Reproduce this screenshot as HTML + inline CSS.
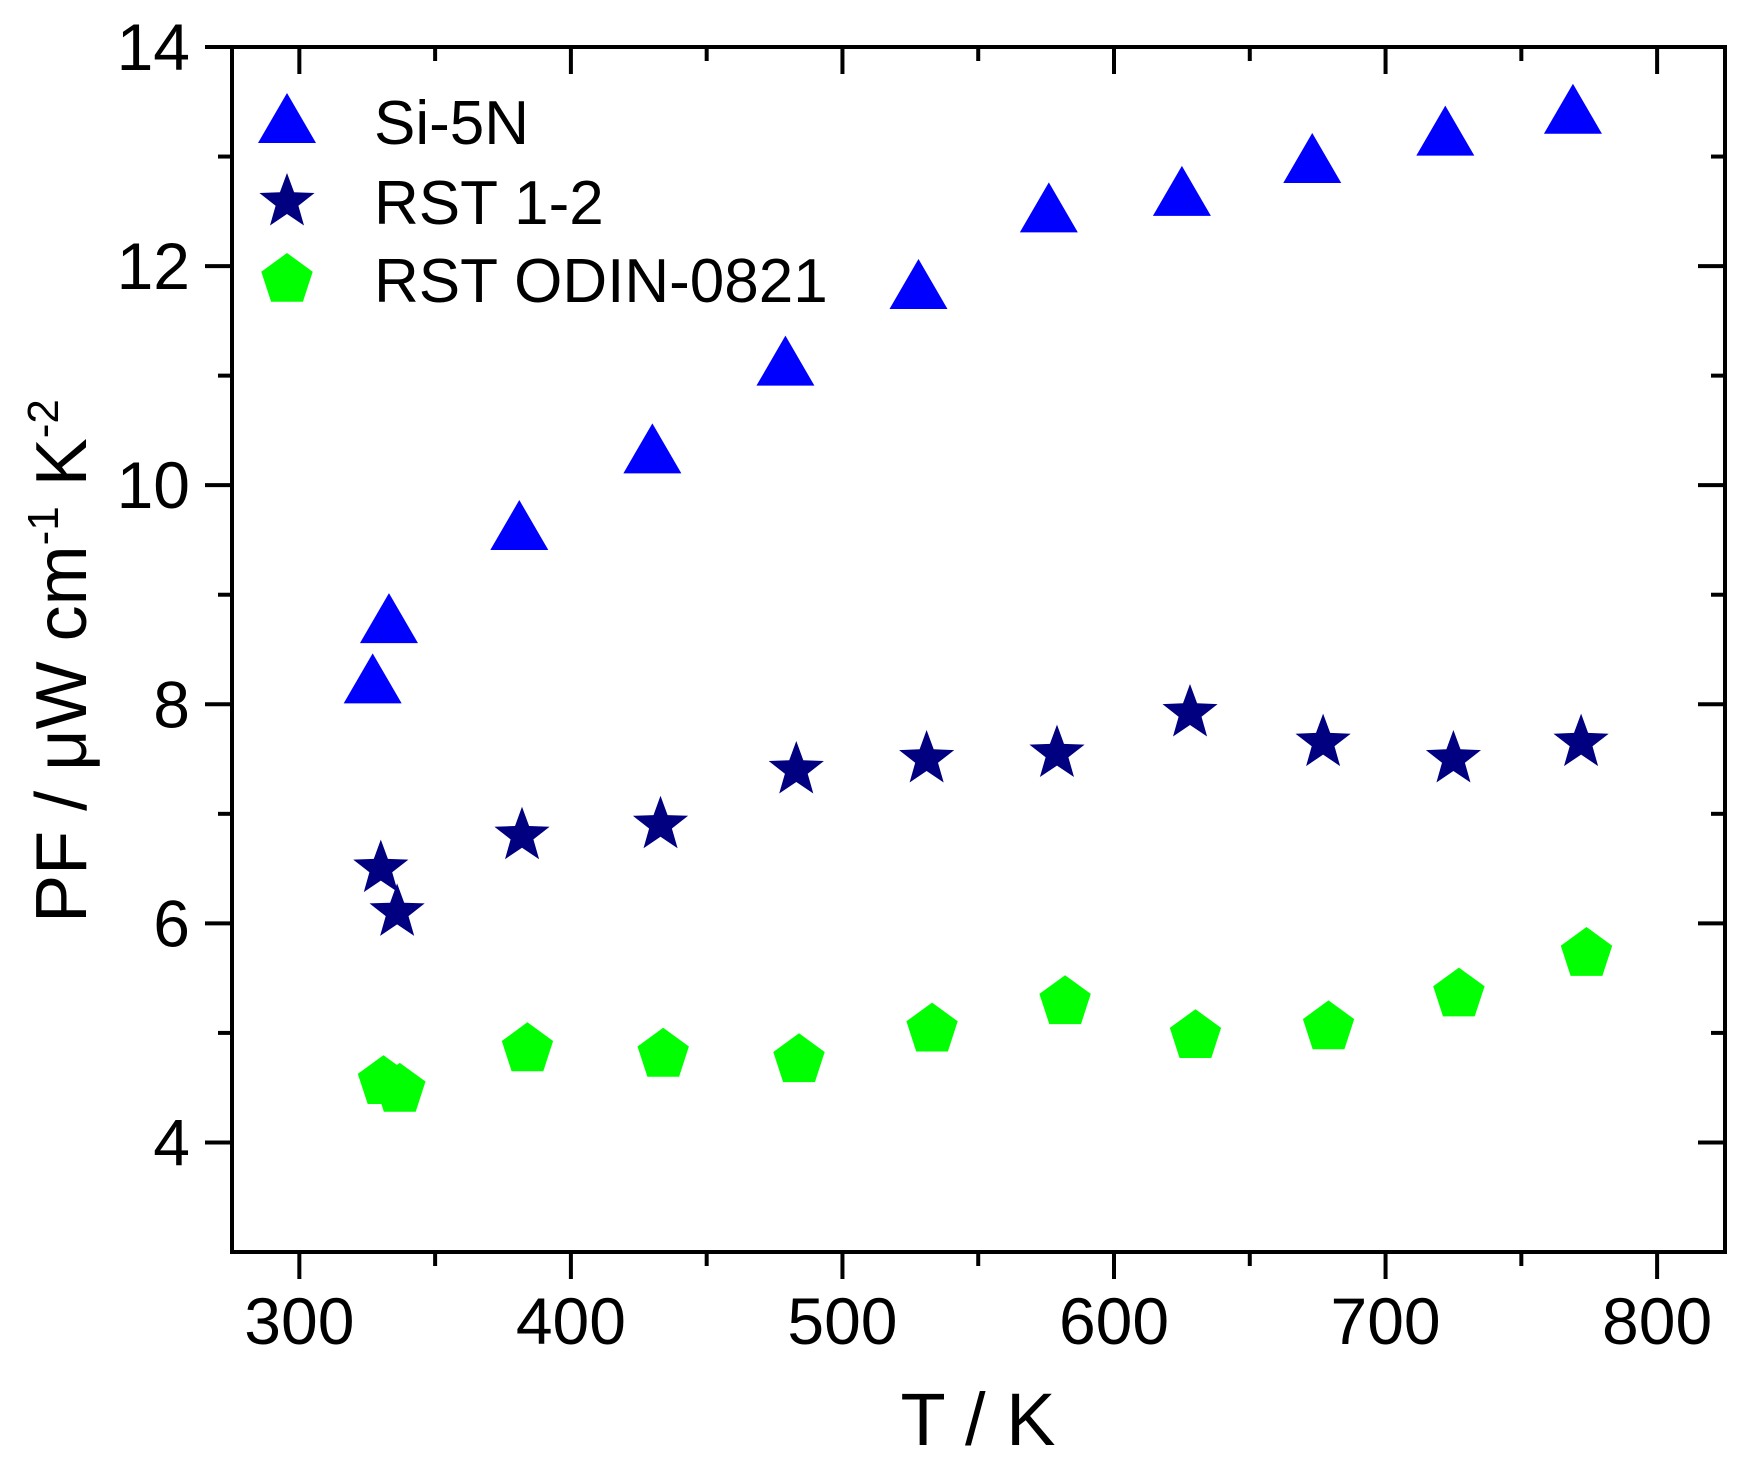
<!DOCTYPE html>
<html><head><meta charset="utf-8"><style>
html,body{margin:0;padding:0;background:#fff;}
svg text{font-family:"Liberation Sans",Arial,sans-serif;fill:#000;}
</style></head><body>
<svg id="chart" width="1741" height="1461" viewBox="0 0 1741 1461" xmlns="http://www.w3.org/2000/svg"></svg>
<script>
const xTicks=[300,400,500,600,700,800];
const yTicks=[4,6,8,10,12,14];
const siX=[327,333,381,430,479,528,576,625,673,722,769];
const siY=[8.2,8.75,9.6,10.3,11.1,11.8,12.5,12.65,12.95,13.2,13.4];
const rstX=[330,336,382,433,483,531,579,628,677,725,772];
const rstY=[6.5,6.1,6.8,6.9,7.4,7.5,7.55,7.92,7.65,7.5,7.65];
const odinX=[331,337,384,434,484,533,582,630,679,727,774];
const odinY=[4.55,4.48,4.85,4.8,4.75,5.03,5.28,4.97,5.05,5.35,5.72];

const L=232,R=1725,T=47,B=1252;
const X0=275.2,X1=825,Y0=3,Y1=14;
function sx(v){return L+(v-X0)/(X1-X0)*(R-L);}
function sy(v){return B-(v-Y0)/(Y1-Y0)*(B-T);}
const svg=document.getElementById('chart');
const NS='http://www.w3.org/2000/svg';
function mk(tag,attrs,parent){const e=document.createElementNS(NS,tag);for(const k in attrs)e.setAttribute(k,attrs[k]);(parent||svg).appendChild(e);return e;}

const frame=mk('rect',{x:L,y:T,width:R-L,height:B-T,fill:'none',stroke:'#000','stroke-width':4});



for(let v=300;v<=800;v+=50){
  const maj=v%100===0;const x=sx(v);
  const t1=mk('line',{x1:x,y1:B,x2:x,y2:B+(maj?27:14),stroke:'#000','stroke-width':4});
  
  
  const t2=mk('line',{x1:x,y1:T,x2:x,y2:T+(maj?27:14),stroke:'#000','stroke-width':4});
  
  
}
xTicks.forEach(v=>{
  const t=mk('text',{x:sx(v),y:1344,'font-size':66,'text-anchor':'middle'});
  t.textContent=v;
  
  
});
for(let v=4;v<=14;v+=1){
  const maj=v%2===0;const y=sy(v);
  const t1=mk('line',{x1:L,y1:y,x2:L-(maj?27:14),y2:y,stroke:'#000','stroke-width':4});
  
  
  const t2=mk('line',{x1:R,y1:y,x2:R-(maj?27:14),y2:y,stroke:'#000','stroke-width':4});
  
  
}
yTicks.forEach(v=>{
  const t=mk('text',{x:190,y:sy(v)+23,'font-size':66,'text-anchor':'end'});
  t.textContent=v;
  
  
});
const xt=mk('text',{x:978,y:1445,'font-size':74,'text-anchor':'middle'});
xt.textContent='T / K';


const yt=mk('text',{x:0,y:0,'font-size':72,'text-anchor':'middle',transform:'translate(86,661) rotate(-90)'});
yt.innerHTML='PF / μW cm<tspan dy="-28" font-size="44">-1</tspan><tspan dy="28"> K</tspan><tspan dy="-28" font-size="44">-2</tspan>';



function tri(cx,cy,col){return mk('polygon',{points:`${cx},${cy-29} ${cx-29},${cy+21} ${cx+29},${cy+21}`,fill:col});}
function star(cx,cy,col){let p=[];for(let i=0;i<10;i++){const r=i%2?12:29;const a=-Math.PI/2+i*Math.PI/5;p.push((cx+r*Math.cos(a)).toFixed(1)+','+(cy+r*Math.sin(a)).toFixed(1));}return mk('polygon',{points:p.join(' '),fill:col});}
function pent(cx,cy,col){let p=[];for(let i=0;i<5;i++){const a=-Math.PI/2+i*2*Math.PI/5;p.push((cx+27*Math.cos(a)).toFixed(1)+','+(cy+27*Math.sin(a)).toFixed(1));}return mk('polygon',{points:p.join(' '),fill:col});}

siX.forEach((v,i)=>{const m=tri(sx(v),sy(siY[i]),'#0000ff');
  
  });
rstX.forEach((v,i)=>{const m=star(sx(v),sy(rstY[i]),'#000080');
  
  });
odinX.forEach((v,i)=>{const m=pent(sx(v),sy(odinY[i]),'#00ff00');
  
  });

const leg=[['Si-5N',tri,'#0000ff',122],['RST 1-2',star,'#000080',202],['RST ODIN-0821',pent,'#00ff00',280]];
leg.forEach(l=>{
  const m=l[1](287,l[3],l[2]);
  
  
  const t=mk('text',{x:374,y:l[3]+22,'font-size':62});
  t.textContent=l[0];
  
  
});
</script>
</body></html>
